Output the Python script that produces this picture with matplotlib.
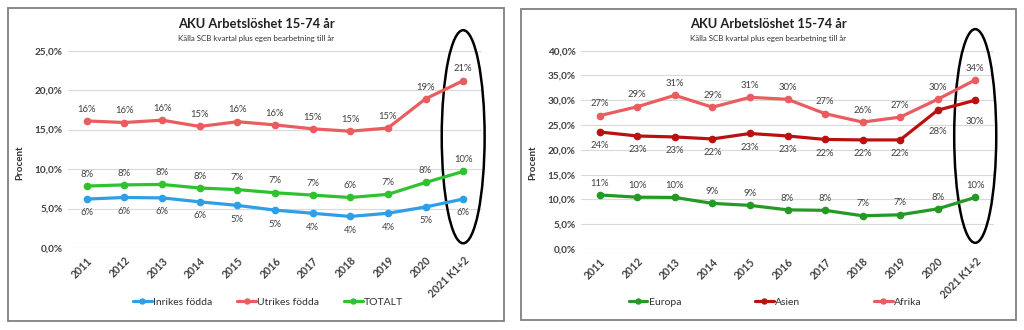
import matplotlib
matplotlib.use("Agg")
import matplotlib.pyplot as plt
from matplotlib.patches import Ellipse, Rectangle
from matplotlib.ticker import FuncFormatter

plt.rcParams["font.family"] = ["Lato", "DejaVu Sans"]

# ─────────────────────────────────────────────
# Data
# ─────────────────────────────────────────────

years = ["2011", "2012", "2013", "2014", "2015", "2016", "2017", "2018", "2019", "2020", "2021 K1+2"]

# left panel: by birth country
inrikes = [6.2, 6.4, 6.35, 5.85, 5.4, 4.8, 4.4, 4.0, 4.4, 5.2, 6.2]
utrikes = [16.1, 15.9, 16.2, 15.4, 16.0, 15.6, 15.1, 14.8, 15.2, 18.9, 21.2]
totalt = [7.85, 8.0, 8.05, 7.6, 7.4, 7.0, 6.7, 6.4, 6.8, 8.3, 9.7]

# right panel: by region of birth
europa = [10.9, 10.45, 10.4, 9.2, 8.8, 7.9, 7.8, 6.7, 6.9, 8.1, 10.4]
asien = [23.6, 22.8, 22.6, 22.2, 23.3, 22.8, 22.1, 22.0, 22.0, 28.0, 30.0]
afrika = [26.9, 28.7, 31.0, 28.6, 30.6, 30.2, 27.3, 25.6, 26.6, 30.2, 34.1]

TITLE = "AKU Arbetslöshet 15-74 år"
SUBTITLE = "Källa SCB kvartal plus egen bearbetning till år"

BLUE = "#2e9fe6"
SALMON = "#ea5c5f"
BRIGHT_GREEN = "#2fc22f"
DARK_GREEN = "#249a24"
DARK_RED = "#bb1010"
TXT = "#404040"

W, H = 1024, 330


def fx(px):
    return px / W


def fy(py):
    return 1 - py / H


# ─────────────────────────────────────────────
# Plotting
# ─────────────────────────────────────────────

def draw_panel(fig, rect, ymax, series, ell, panel_box, legend_x, colspace):
    ax = fig.add_axes(rect)
    x = range(len(years))
    for values, color, name, where in series:
        ax.plot(x, values, color=color, lw=2.3, marker="o", ms=4.5,
                label=name, solid_capstyle="round")
        for i, v in enumerate(values):
            if where == "above":
                dy = 8.5
            else:
                # Excel pushed the last two labels further down
                dy = -15 if (name == "Asien" and i >= 9) else -10
            ax.annotate(f"{v:.0f}%", (i, v), xytext=(0, dy), textcoords="offset points",
                        ha="center", va="center", fontsize=6.8, color=TXT)

    ax.set_xlim(-0.5, len(years) - 0.5)
    ax.set_ylim(0, ymax)
    ax.set_yticks(range(0, ymax + 1, 5))
    ax.yaxis.set_major_formatter(FuncFormatter(lambda v, _: f"{v:.1f}%".replace(".", ",")))
    ax.set_xticks(list(x))
    ax.set_xticklabels(years, rotation=45, ha="right", rotation_mode="anchor")
    ax.tick_params(axis="y", length=0, labelsize=7.2, labelcolor=TXT, pad=4)
    ax.tick_params(axis="x", length=0, labelsize=7.6, labelcolor=TXT, pad=5)
    for lbl in ax.get_xticklabels() + ax.get_yticklabels():
        lbl.set_fontweight("bold")
    ax.grid(axis="y", color="#d9d9d9", lw=0.8)
    ax.set_axisbelow(True)
    for s in ax.spines.values():
        s.set_visible(False)

    # the hand drawn ring around the last period
    xc, yc, w, h = ell
    ax.add_patch(Ellipse((xc, yc), w, h, fill=False, ec="black", lw=1.8, clip_on=False))

    leg = ax.legend(loc="center", bbox_to_anchor=(legend_x, fy(302)), bbox_transform=fig.transFigure,
                    ncol=3, frameon=False, fontsize=7.5, handlelength=1.8, handletextpad=0.1,
                    columnspacing=colspace, markerscale=0.8)
    for t in leg.get_texts():
        t.set_color("#303030")

    # panel frame, title, subtitle, y label
    x0, y0, x1, y1 = panel_box
    fig.add_artist(Rectangle((fx(x0), fy(y1)), fx(x1 - x0), (y1 - y0) / H,
                             transform=fig.transFigure, fill=False, ec="#808080", lw=1.3))
    cx = fx((x0 + x1) / 2)
    fig.text(cx, fy(24), TITLE, ha="center", va="center", fontsize=9.3, fontweight="bold", color="#202020")
    fig.text(cx, fy(38), SUBTITLE, ha="center", va="center", fontsize=5.7, color="#303030")
    fig.text(fx(x0 + 12), fy(163), "Procent", rotation=90, ha="center", va="center",
             fontsize=7, fontweight="bold", color="#303030")
    return ax


fig = plt.figure(figsize=(W / 100, H / 100), dpi=100)
fig.patch.set_facecolor("white")

draw_panel(
    fig, [fx(68), fy(248), fx(414), (248 - 50.7) / H], 25,
    [(inrikes, BLUE, "Inrikes födda", "below"),
     (utrikes, SALMON, "Utrikes födda", "above"),
     (totalt, BRIGHT_GREEN, "TOTALT", "above")],
    (10, 14.1, 1.14, 27.0), (8, 8, 504, 321), fx(268), 2.4,
)

draw_panel(
    fig, [fx(581), fy(249), fx(413), (249 - 50.7) / H], 40,
    [(europa, DARK_GREEN, "Europa", "above"),
     (asien, DARK_RED, "Asien", "below"),
     (afrika, SALMON, "Afrika", "above")],
    (10, 22.8, 1.12, 43.1), (521, 9, 1016, 320), fx(775), 7.1,
)

fig.savefig("out.png", dpi=100)
